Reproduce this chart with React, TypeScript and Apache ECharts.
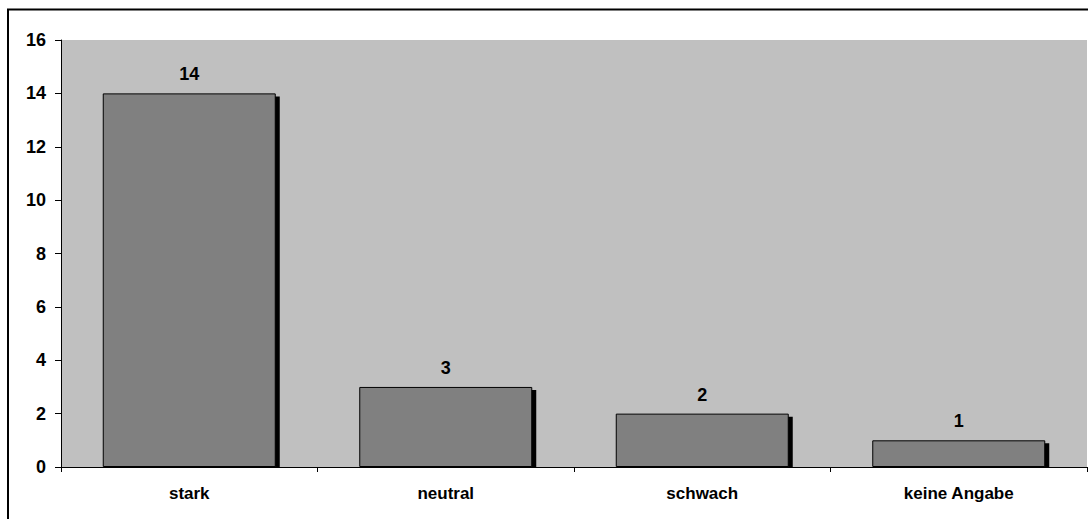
import React, { useEffect, useRef } from "react";
import * as echarts from "echarts";

const categories = ["stark", "neutral", "schwach", "keine Angabe"];
const values = [14, 3, 2, 1];
const yTicks = [0, 2, 4, 6, 8, 10, 12, 14, 16];

const FONT = "'Liberation Sans', Arial, sans-serif";
const BAR_W = 173;

export default function App() {
  const ref = useRef<HTMLDivElement>(null);
  useEffect(() => {
    if (!ref.current) return;
    const chart = echarts.init(ref.current, null, { renderer: "svg" });
    chart.setOption({
      animation: false,
      backgroundColor: "#ffffff",
      graphic: [
        {
          type: "rect",
          z: 100,
          silent: true,
          shape: { x: 8, y: 9.5, width: 1200, height: 700 },
          style: { fill: "none", stroke: "#000", lineWidth: 2 },
        },
      ],
      grid: {
        left: 61,
        right: 1,
        top: 40,
        bottom: 52,
        show: true,
        backgroundColor: "#c0c0c0",
        borderWidth: 0,
      },
      xAxis: {
        type: "category",
        data: categories,
        axisLine: { show: true, lineStyle: { color: "#000", width: 1 } },
        axisTick: { show: true, alignWithLabel: false, length: 5, lineStyle: { color: "#000" } },
        axisLabel: {
          color: "#000",
          fontFamily: FONT,
          fontWeight: "bold",
          fontSize: 17,
          margin: 18,
        },
        splitLine: { show: false },
      },
      yAxis: {
        type: "value",
        min: yTicks[0],
        max: yTicks[yTicks.length - 1],
        interval: 2,
        axisLine: { show: true, lineStyle: { color: "#000", width: 1 } },
        axisTick: { show: true, length: 6, lineStyle: { color: "#000" } },
        axisLabel: {
          color: "#000",
          fontFamily: FONT,
          fontWeight: "bold",
          fontSize: 18,
          margin: 15,
        },
        splitLine: { show: false },
      },
      series: [
        {
          type: "custom",
          z: 1,
          silent: true,
          data: values.map((v, i) => [i, v]),
          renderItem: (params: any, api: any) => {
            const top = api.coord([api.value(0), api.value(1)]);
            const base = api.coord([api.value(0), 0]);
            return {
              type: "rect",
              shape: {
                x: top[0] - BAR_W / 2 + 4,
                y: top[1] + 3,
                width: BAR_W,
                height: base[1] - top[1] - 3,
              },
              style: { fill: "#000" },
            };
          },
        },
        {
          type: "bar",
          z: 2,
          data: values,
          barWidth: BAR_W,
          itemStyle: { color: "#808080", borderColor: "#000", borderWidth: 1 },
          label: {
            show: true,
            position: "top",
            distance: 10,
            color: "#000",
            fontFamily: FONT,
            fontWeight: "bold",
            fontSize: 18,
          },
        },
      ],
    });
    return () => chart.dispose();
  }, []);
  return <div ref={ref} style={{ width: 1088, height: 519, position: "absolute", left: 0, top: 0 }} />;
}
